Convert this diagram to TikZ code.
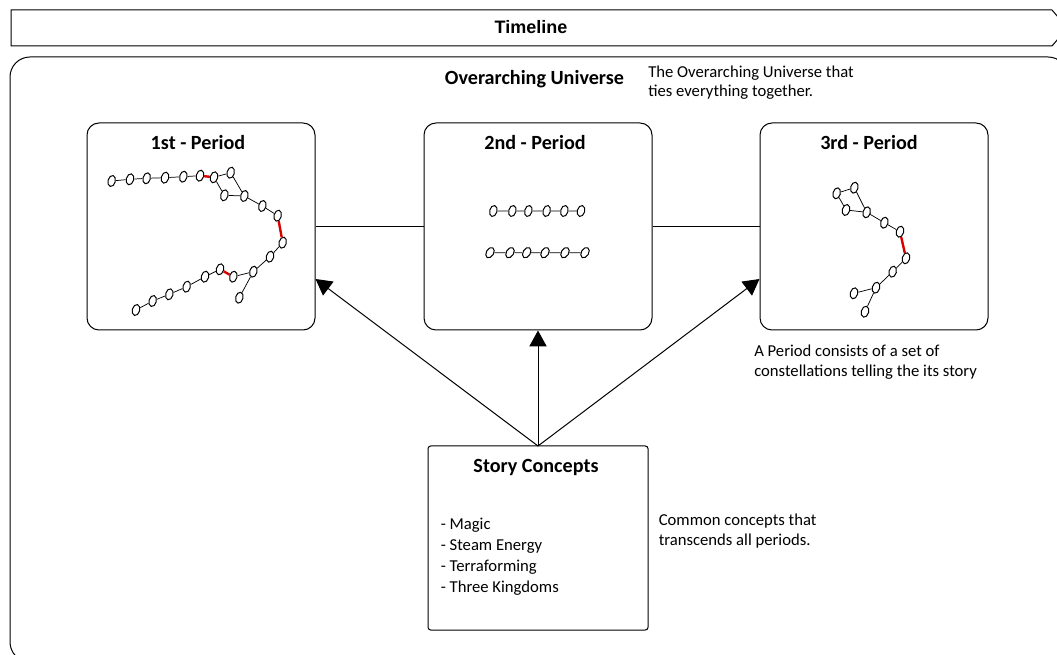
\documentclass[tikz,border=0pt]{standalone}
\usepackage{fontspec}
\setmainfont{Carlito}
\newfontfamily\tlfont{Liberation Sans}
\usetikzlibrary{arrows.meta,shapes.geometric}
\begin{document}
\begin{tikzpicture}[x=0.75pt,y=-0.75pt,
  star/.style={ellipse,draw,line width=0.75pt,minimum width=5.5pt,minimum height=8.4pt,inner sep=0pt,rotate=-15,fill=white},
  slstar/.style={star,rotate=-15},
  link/.style={line width=0.55pt},
  redlink/.style={line width=1.8pt,draw=red!85!black},
  period/.style={draw,line width=0.75pt,rounded corners=9pt,minimum width=171pt,minimum height=155.25pt,inner sep=0pt},
  concept/.style={draw,line width=0.75pt,rounded corners=2pt,minimum width=165pt,minimum height=138pt,inner sep=0pt},
  title/.style={font=\bfseries\fontsize{15.1}{17}\selectfont,inner sep=0pt,anchor=base},
  note/.style={align=left,anchor=north west,inner sep=0pt},
  arr/.style={-{Triangle[length=12pt,width=13pt]},line width=0.75pt},
  frame/.style={line width=0.75pt}
]
\useasboundingbox (0,0) rectangle (1057,655);
\begin{scope}
\clip (0,0) rectangle (1057,655);
% timeline bar
\draw[frame] (11,10) -- (1052,10) -- (1058,17) -- (1058,39) -- (1052,46) -- (11,46) -- cycle;
\node[font=\tlfont\bfseries\fontsize{13.5}{16}\selectfont,anchor=base,inner sep=0pt] (timeline) at (531,34) {Timeline};
% universe frame
\draw[frame,rounded corners=15pt] (10,57) rectangle (1068,662);
\end{scope}

\node[title] (universe) at (534.5,85) {Overarching Universe};
\node[note,font=\fontsize{12.5}{14.2}\selectfont] (unote) at (648,65.5) {The Overarching Universe that\\ties everything together.};

% periods
\node[period] (p1) at (201,226.5) {};
\node[period] (p2) at (538,226.5) {};
\node[period] (p3) at (874,226.5) {};
\node[title] (t1) at (198,149.5) {1st - Period};
\node[title] (t2) at (535,149.5) {2nd - Period};
\node[title] (t3) at (869,149.5) {3rd - Period};
\draw[link,line width=0.75pt] (p1.east) -- (p2.west);
\draw[link,line width=0.75pt] (p2.east) -- (p3.west);

\node[note,font=\fontsize{12.5}{15}\selectfont] (pnote) at (754,345) {A Period consists of a set of\\constellations telling the its story};

% story concepts
\node[concept] (sc) at (538,538) {};
\node[title] (sct) at (536,473) {Story Concepts};
\node[note,font=\fontsize{12.5}{15.9}\selectfont] (list) at (440.5,517.5) {- Magic\\- Steam Energy\\- Terraforming\\- Three Kingdoms};
\node[note,font=\fontsize{12.5}{15.3}\selectfont] (cnote) at (658.5,513.5) {Common concepts that\\transcends all periods.};

\coordinate (scTop) at (538,446);
\draw[arr] (scTop) -- (p1.east |- 0,279);
\draw[arr] (scTop) -- (p2.south);
\draw[arr] (scTop) -- (p3.west |- 0,279);

% constellation 1
\foreach \n/\x/\y in {a1/111.7/181, a2/130/179.3, a3/146.7/178.3, a4/165/177.7, a5/183.3/176.7, a6/200/175.7,
  a7/214/177.3, a8/230.7/172.7, a9/224.3/195.3, a10/244.3/196, a11/262.3/206, a12/277.7/215.7,
  a13/282.7/242.7, a14/270/256.7, a15/253.3/271.7, a16/239.3/297.7, a17/233.3/276.7, a18/220/269.3,
  a19/205/276.7, a20/186.7/286.7, a21/169.3/294.3, a22/152.7/301, a23/136/310}
  \node[star] (\n) at (\x,\y) {};
\draw[link] (a1) -- (a2) -- (a3) -- (a4) -- (a5) -- (a6);
\draw[redlink] (a6) -- (a7);
\draw[link] (a7) -- (a8) -- (a10) -- (a9) -- (a7);
\draw[link] (a10) -- (a11) -- (a12);
\draw[redlink] (a12) -- (a13);
\draw[link] (a13) -- (a14) -- (a15) -- (a16);
\draw[link] (a15) -- (a17);
\draw[redlink] (a17) -- (a18);
\draw[link] (a18) -- (a19) -- (a20) -- (a21) -- (a22) -- (a23);

% constellation 2
\foreach \n/\x in {b1/493.3, b2/512.3, b3/528.3, b4/546.7, b5/564.3, b6/581}
  \node[star] (\n) at (\x,211) {};
\draw[link] (b1) -- (b2) -- (b3) -- (b4) -- (b5) -- (b6);
\foreach \n/\x in {c1/490, c2/510, c3/526.7, c4/545, c5/565, c6/585}
  \node[slstar] (\n) at (\x,252.7) {};
\draw[link] (c1) -- (c2) -- (c3) -- (c4) -- (c5) -- (c6);

% constellation 3
\foreach \n/\x/\y in {d1/836.7/193.3, d2/854.3/187.7, d3/846/210, d4/866.7/212.3, d5/884.3/222.7,
  d6/900/231.7, d7/906/258.3, d8/892.7/271.7, d9/876/287.7, d10/854/293.3, d11/865/311.7}
  \node[star] (\n) at (\x,\y) {};
\draw[link] (d1) -- (d2) -- (d4) -- (d3) -- (d1);
\draw[link] (d4) -- (d5) -- (d6);
\draw[redlink] (d6) -- (d7);
\draw[link] (d7) -- (d8) -- (d9) -- (d10);
\draw[link] (d9) -- (d11);
\end{tikzpicture}
\end{document}
